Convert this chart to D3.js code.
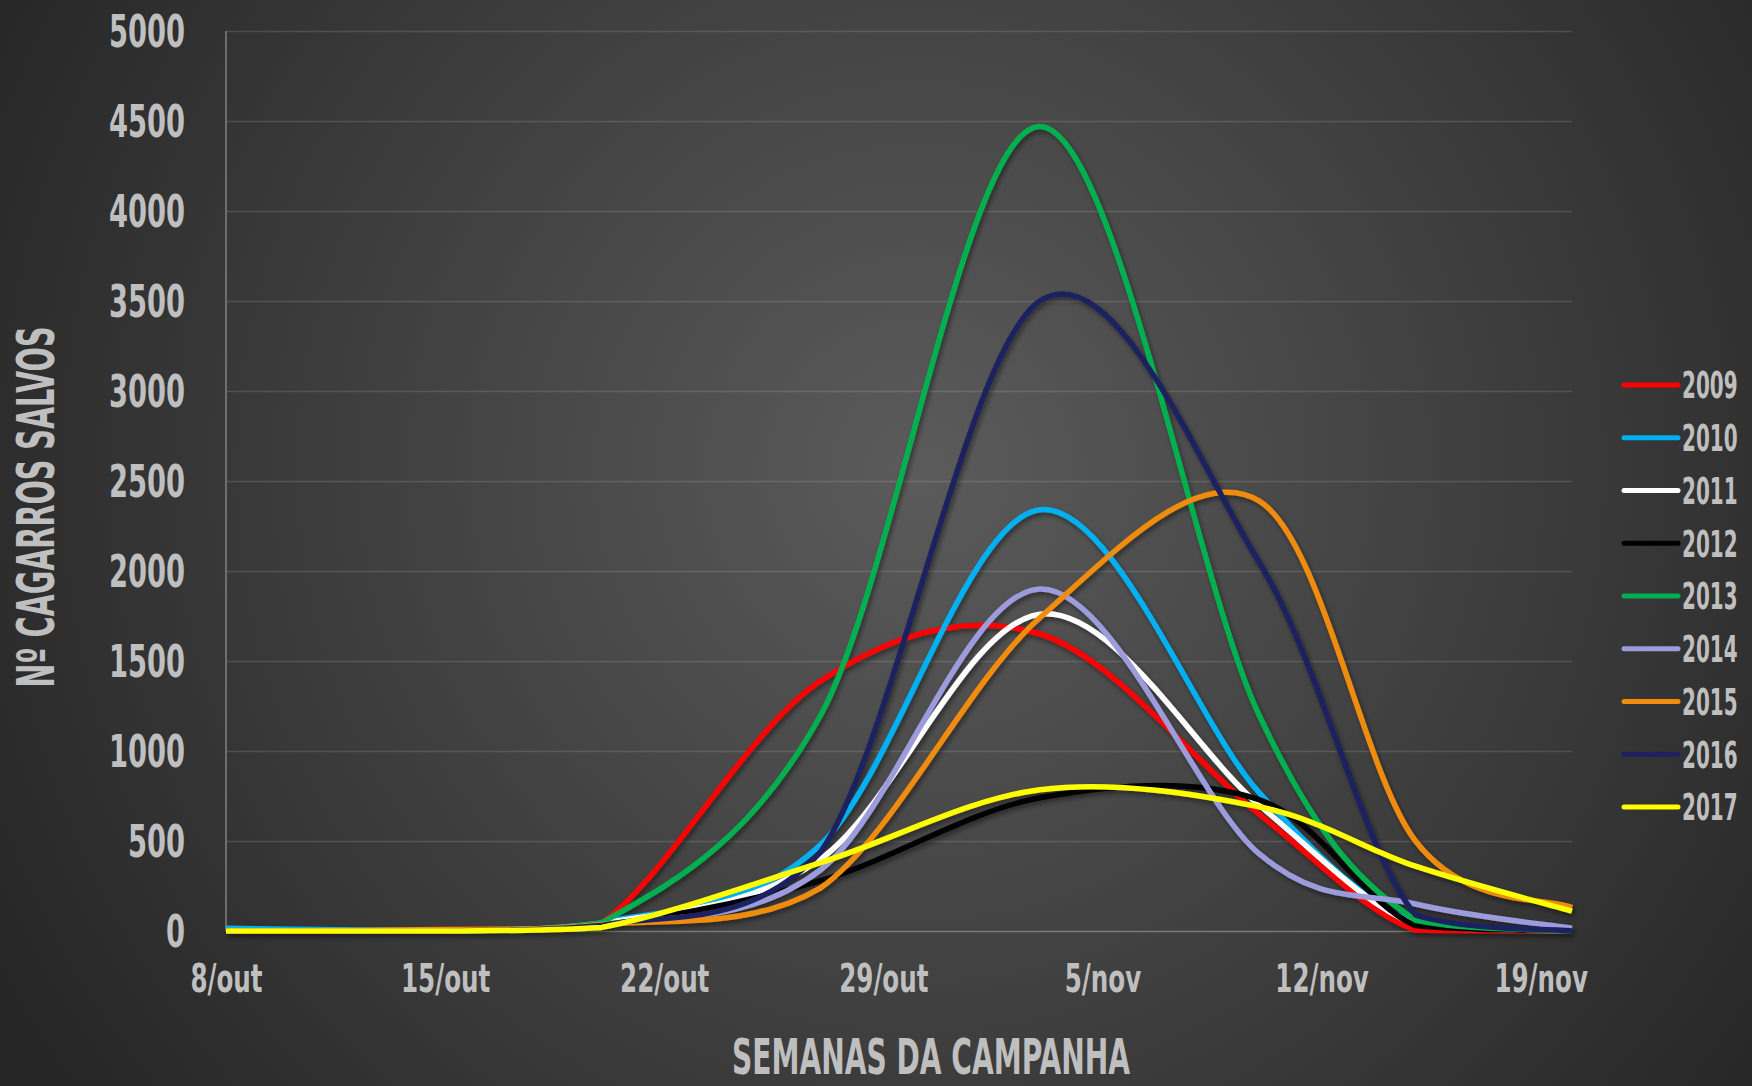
<!DOCTYPE html>
<html>
<head>
<meta charset="utf-8">
<script src="https://cdn.jsdelivr.net/npm/d3@7"></script>
<style>
  html, body { margin: 0; padding: 0; background: #2b2b2b; }
  svg { display: block; }
  text { font-family: "DejaVu Sans Condensed", "DejaVu Sans", sans-serif; font-weight: bold; fill: #bfbfbf; }
</style>
</head>
<body>
<svg id="chart" width="1752" height="1086"></svg>
<script>
// datas dos pontos (ano fictício, só interessa dia/mês)
const dates = ["2017-10-08", "2017-10-15", "2017-10-20", "2017-10-27", "2017-11-03", "2017-11-10", "2017-11-15", "2017-11-20"];
const tickDates = ["2017-10-08", "2017-10-15", "2017-10-22", "2017-10-29", "2017-11-05", "2017-11-12", "2017-11-19"];
const tickLabels = ["8/out", "15/out", "22/out", "29/out", "5/nov", "12/nov", "19/nov"];
const yTicks = [0, 500, 1000, 1500, 2000, 2500, 3000, 3500, 4000, 4500, 5000];
const years = ["2009", "2010", "2011", "2012", "2013", "2014", "2015", "2016", "2017"];

const v2009 = [0, 0, 45, 1390, 1650, 650, 5, 0];
const v2010 = [15, 5, 45, 480, 2340, 770, 40, 0];
const v2011 = [0, 0, 40, 400, 1760, 700, 35, 0];
const v2012 = [0, 0, 30, 280, 740, 730, 30, 0];
const v2013 = [0, 0, 45, 1200, 4470, 1200, 60, 0];
const v2014 = [0, 0, 35, 340, 1900, 430, 150, 15];
const v2015 = [0, 8, 35, 240, 1740, 2390, 500, 130];
const v2016 = [0, 0, 30, 440, 3500, 2050, 90, 0];
const v2017 = [0, 0, 20, 380, 785, 690, 360, 110];
const seriesValues = [v2009, v2010, v2011, v2012, v2013, v2014, v2015, v2016, v2017];

const colors = ["#ff0000", "#00b0f0", "#ffffff", "#000000", "#00b050", "#9c9cdc", "#f08c0e", "#1f2060", "#ffff00"];

var parse = d3.timeParse("%Y-%m-%d");
var W = 1752, H = 1086;
var plotLeft = 226, plotRight = 1572, plotTop = 31, plotBottom = 931;

// a fonte original é muito estreita: comprime o texto na horizontal
function squeeze(sel, k) {
  sel.each(function() {
    var len = this.getComputedTextLength();
    d3.select(this).attr("textLength", len * k).attr("lengthAdjust", "spacingAndGlyphs");
  });
}

// curva suavizada tipo Excel (bezier 1/6), sem descer abaixo do zero
function curveSmooth(context) {
  var pts;
  return {
    areaStart: function() {},
    areaEnd: function() {},
    lineStart: function() { pts = []; },
    point: function(px, py) { pts.push([+px, +py]); },
    lineEnd: function() {
      var n = pts.length;
      if (!n) return;
      context.moveTo(pts[0][0], pts[0][1]);
      for (var i = 0; i < n - 1; i++) {
        var p0 = pts[Math.max(i - 1, 0)], p1 = pts[i], p2 = pts[i + 1], p3 = pts[Math.min(i + 2, n - 1)];
        var c1x = p1[0] + (p2[0] - p0[0]) / 6,
            c1y = Math.min(plotBottom, p1[1] + (p2[1] - p0[1]) / 6),
            c2x = p2[0] - (p3[0] - p1[0]) / 6,
            c2y = Math.min(plotBottom, p2[1] - (p3[1] - p1[1]) / 6);
        context.bezierCurveTo(c1x, c1y, c2x, c2y, p2[0], p2[1]);
      }
    }
  };
}

var svg = d3.select("#chart");

// fundo com gradiente radial
var defs = svg.append("defs");
var grad = defs.append("radialGradient")
    .attr("id", "bg")
    .attr("gradientUnits", "userSpaceOnUse")
    .attr("cx", 920).attr("cy", 470).attr("r", 1050);
grad.append("stop").attr("offset", "0%").attr("stop-color", "#5b5b5b");
grad.append("stop").attr("offset", "100%").attr("stop-color", "#262626");

var shadow = defs.append("filter").attr("id", "shadow")
    .attr("x", "-5%").attr("y", "-5%").attr("width", "110%").attr("height", "115%");
shadow.append("feDropShadow")
    .attr("dx", 2).attr("dy", 3).attr("stdDeviation", 2.5)
    .attr("flood-color", "#000").attr("flood-opacity", 0.45);

svg.append("rect").attr("width", W).attr("height", H).attr("fill", "url(#bg)");

var x = d3.scaleTime()
    .domain([parse(dates[0]), parse(dates[dates.length - 1])])
    .range([plotLeft, plotRight]);

var y = d3.scaleLinear()
    .domain([0, 5000])
    .range([plotBottom, plotTop]);

// grelha horizontal
svg.append("g")
    .attr("transform", "translate(" + plotLeft + ",0)")
    .call(d3.axisLeft(y).tickValues(yTicks).tickSize(-(plotRight - plotLeft)).tickFormat(""))
    .call(g => g.select(".domain").remove())
    .call(g => g.selectAll(".tick line")
        .attr("stroke", function(d) { return d === 0 ? "#7a7a7a" : "rgba(255,255,255,0.13)"; })
        .attr("stroke-width", 1.5));

// eixo y (linha)
svg.append("line")
    .attr("x1", plotLeft).attr("x2", plotLeft)
    .attr("y1", plotTop).attr("y2", plotBottom)
    .attr("stroke", "#808080").attr("stroke-width", 1.5);

// rótulos do eixo y
svg.append("g")
    .attr("transform", "translate(" + (plotLeft - 41) + ",0)")
    .call(d3.axisLeft(y).tickValues(yTicks).tickSize(0).tickPadding(0).tickFormat(d3.format("d")))
    .call(g => g.select(".domain").remove())
    .call(g => g.selectAll("text")
        .attr("font-size", 44)
        .attr("font-family", null)
        .attr("dy", "0.36em")
        .attr("fill", "#bfbfbf")
        .call(squeeze, 0.69));

// rótulos do eixo x
svg.append("g")
    .attr("transform", "translate(0," + plotBottom + ")")
    .call(d3.axisBottom(x)
        .tickValues(tickDates.map(parse))
        .tickSize(0)
        .tickPadding(0)
        .tickFormat(function(d, i) { return tickLabels[i]; }))
    .call(g => g.select(".domain").remove())
    .call(g => g.selectAll("text")
        .attr("font-size", 39)
        .attr("font-family", null)
        .attr("y", 61)
        .attr("dy", 0)
        .attr("fill", "#bfbfbf")
        .call(squeeze, 0.7));

// linhas
var line = d3.line()
    .x(function(d, i) { return x(parse(dates[i])); })
    .y(function(d) { return y(d); })
    .curve(curveSmooth);

svg.append("g")
    .attr("filter", "url(#shadow)")
    .selectAll("path")
    .data(seriesValues)
    .enter()
    .append("path")
    .attr("d", line)
    .attr("fill", "none")
    .attr("stroke", function(d, i) { return colors[i]; })
    .attr("stroke-width", 5.5)
    .attr("stroke-linejoin", "round");

// legenda
var legend = svg.append("g")
    .selectAll("g")
    .data(years)
    .enter()
    .append("g")
    .attr("transform", function(d, i) { return "translate(1624," + (385 + i * 52.75) + ")"; });

legend.append("line")
    .attr("x1", 0).attr("x2", 54)
    .attr("stroke", function(d, i) { return colors[i]; })
    .attr("stroke-width", 5)
    .attr("stroke-linecap", "round");

legend.append("text")
    .attr("transform", "translate(58,0) scale(0.6,1)")
    .attr("dy", "0.36em")
    .attr("font-size", 37)
    .text(function(d) { return d; });

// títulos dos eixos
svg.append("text")
    .attr("x", 931).attr("y", 1074)
    .attr("text-anchor", "middle")
    .attr("font-size", 50)
    .attr("textLength", 398)
    .attr("lengthAdjust", "spacingAndGlyphs")
    .text("SEMANAS DA CAMPANHA");

svg.append("text")
    .attr("transform", "translate(54,507) rotate(-90)")
    .attr("text-anchor", "middle")
    .attr("font-size", 51)
    .attr("textLength", 361)
    .attr("lengthAdjust", "spacingAndGlyphs")
    .text("Nº CAGARROS SALVOS");
</script>
</body>
</html>
